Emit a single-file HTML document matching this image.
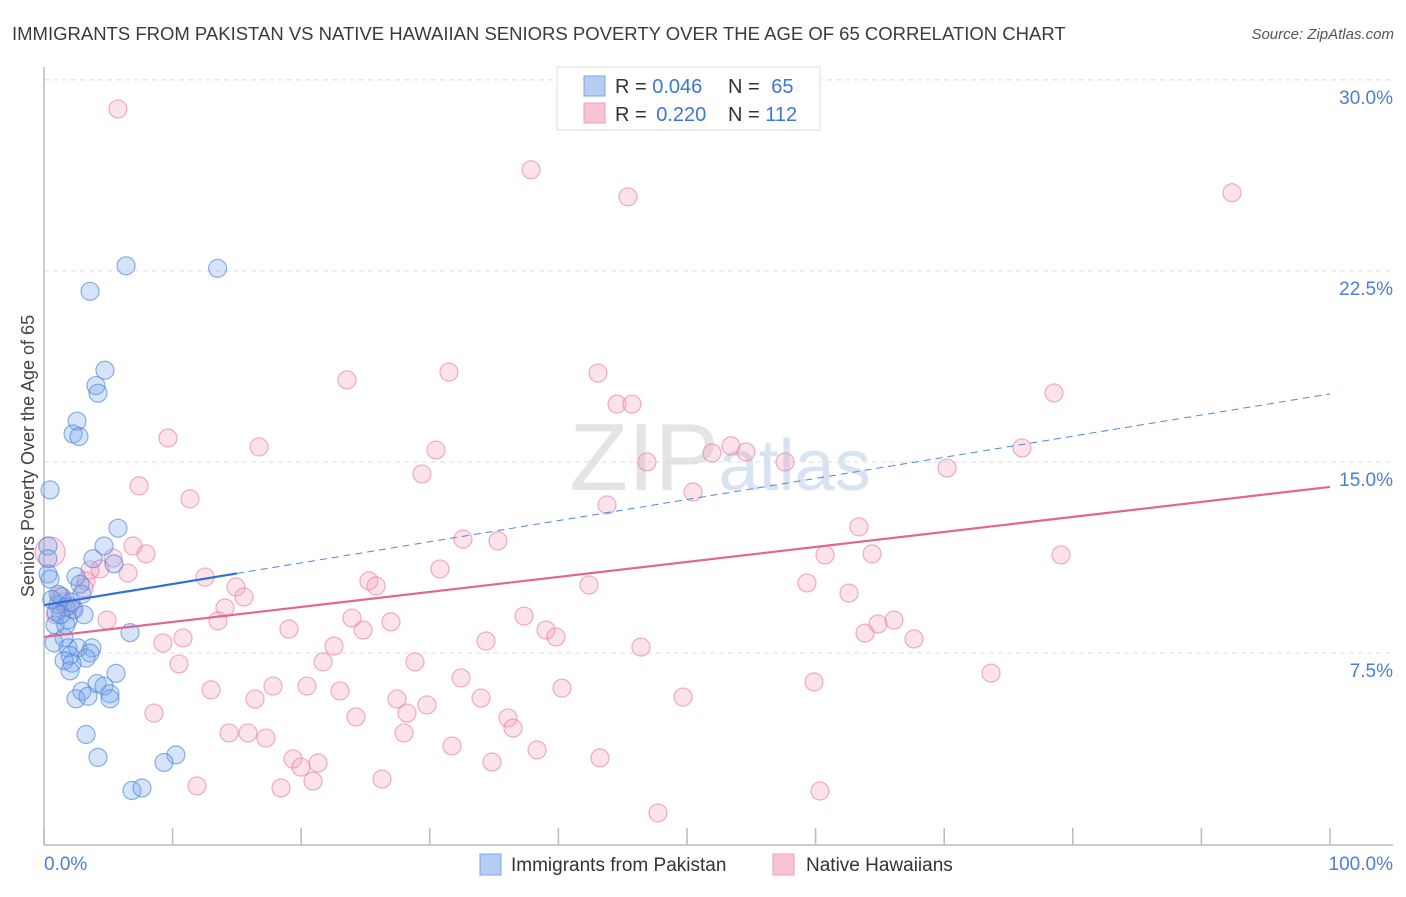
<!DOCTYPE html>
<html><head><meta charset="utf-8"><style>
body{margin:0;background:#fff;font-family:"Liberation Sans",sans-serif;}
svg text{font-family:"Liberation Sans",sans-serif;}
</style></head><body>
<svg id="c" width="1406" height="892" xmlns="http://www.w3.org/2000/svg">
<text x="12" y="40" font-size="18.5" fill="#3a3a3a">IMMIGRANTS FROM PAKISTAN VS NATIVE HAWAIIAN SENIORS POVERTY OVER THE AGE OF 65 CORRELATION CHART</text>
<text x="1394" y="39" font-size="15" fill="#555" text-anchor="end" font-style="italic">Source: ZipAtlas.com</text>
<text x="720" y="490" font-size="96" fill="#e4e4e4" text-anchor="middle" font-family="Liberation Serif">ZIP<tspan fill="#d6e3f3" font-family="Liberation Sans" font-size="72">atlas</tspan></text>
<g id="grid"></g>
<g id="axes"></g>
<g id="pts"></g>
<g id="trend"></g>
<text transform="translate(34,456) rotate(-90)" font-size="18" fill="#444" text-anchor="middle">Seniors Poverty Over the Age of 65</text>
<text x="44" y="870" font-size="19" fill="#4a7fd4">0.0%</text>
<text x="1393" y="870" font-size="19" fill="#4a7fd4" text-anchor="end">100.0%</text>
<g>
<rect x="557" y="67" width="263" height="63" fill="#fff" stroke="#ddd"/>
<rect x="584" y="76" width="21" height="20" fill="#b5cdf3" stroke="#7aa5e6"/>
<rect x="584" y="103" width="21" height="20" fill="#f9c5d5" stroke="#f0a0bb"/>
<text x="615" y="93" font-size="20" fill="#333">R = <tspan fill="#3b78d0">0.046</tspan></text>
<text x="728" y="93" font-size="20" fill="#333">N = <tspan fill="#3b78d0" dx="6">65</tspan></text>
<text x="615" y="121" font-size="20" fill="#333">R = <tspan fill="#3b78d0" dx="4">0.220</tspan></text>
<text x="728" y="121" font-size="20" fill="#333">N = <tspan fill="#3b78d0">112</tspan></text>
</g>
<g>
<rect x="480" y="854" width="21" height="21" fill="#b5cdf3" stroke="#7aa5e6"/>
<text x="511" y="871" font-size="19" fill="#333">Immigrants from Pakistan</text>
<rect x="773" y="854" width="21" height="21" fill="#f9c5d5" stroke="#f0a0bb"/>
<text x="806" y="871" font-size="19" fill="#333">Native Hawaiians</text>
</g>
</svg>
<script>
const yTicks=[7.5,15,22.5,30];
const yTickLabels=["7.5%","15.0%","22.5%","30.0%"];
const xTicks=[0,10,20,30,40,50,60,70,80,90,100];
const blueX=[0.47,6.38,13.5,3.58,4.74,4.04,4.2,2.57,2.26,2.72,5.75,4.67,3.81,5.44,0.31,0.31,0.47,2.49,2.8,2.95,1.4,1.09,1.71,2.33,0.93,3.11,1.87,0.86,6.69,1.56,0.78,1.87,2.64,3.73,3.58,2.02,3.27,1.56,2.18,5.6,2.02,4.12,4.67,2.95,5.13,2.49,3.42,5.13,3.27,4.2,10.26,9.33,6.84,7.62,1.1,0.6,1.7,2.1,0.3,1.3];
const blueY=[13.9,22.7,22.6,21.7,18.6,18.0,17.7,16.6,16.1,16.0,12.4,11.7,11.2,11.0,11.7,10.6,10.4,10.5,10.2,9.8,9.7,9.4,9.3,9.2,9.1,9.0,8.8,8.6,8.3,8.1,7.9,7.7,7.7,7.7,7.5,7.4,7.3,7.2,7.1,6.7,6.8,6.3,6.2,6.0,5.9,5.7,5.8,5.7,4.3,3.4,3.5,3.2,2.1,2.2,9.8,9.6,8.6,9.5,11.2,9.0];
const pinkX=[5.75,37.87,45.41,92.38,23.56,31.49,43.08,44.56,45.72,78.54,9.64,16.72,30.48,53.42,54.59,51.94,57.62,76.05,46.89,29.39,70.22,7.39,11.35,50.47,43.78,63.37,32.58,35.3,79.08,60.73,64.39,6.92,7.93,5.37,6.53,4.35,12.52,3.27,25.27,25.82,30.79,42.38,59.33,14.93,15.55,62.6,14.07,1.94,37.33,23.95,26.98,66.1,64.85,39.04,39.81,13.53,24.81,19.05,63.84,4.9,67.65,34.37,10.81,9.25,22.55,46.42,10.5,21.7,28.85,73.64,32.43,20.45,17.81,12.99,23.02,40.28,59.88,16.41,27.45,29.78,33.98,49.69,8.55,28.23,36.08,24.26,36.47,14.39,15.86,17.26,27.99,31.73,38.34,19.36,21.31,43.23,19.98,34.84,26.28,11.9,18.43,20.92,60.34,47.74,0.47,1.24,3.11,3.58,41.9,2.2,1.5,0.9];
const pinkY=[28.86,26.47,25.41,25.57,18.22,18.53,18.49,17.27,17.27,17.71,15.94,15.59,15.47,15.63,15.39,15.35,15.0,15.55,15.0,14.53,14.76,14.06,13.55,13.82,13.31,12.45,11.97,11.9,11.35,11.35,11.39,11.7,11.39,11.23,10.64,10.8,10.48,10.33,10.33,10.13,10.8,10.17,10.25,10.09,9.7,9.85,9.27,9.34,8.95,8.87,8.72,8.79,8.64,8.4,8.13,8.76,8.4,8.44,8.28,8.79,8.05,7.97,8.09,7.89,7.77,7.73,7.07,7.15,7.15,6.71,6.52,6.2,6.2,6.05,6.01,6.12,6.36,5.69,5.69,5.46,5.73,5.77,5.14,5.14,4.95,4.99,4.55,4.36,4.36,4.16,4.36,3.85,3.69,3.34,3.18,3.38,3.02,3.22,2.55,2.28,2.2,2.47,2.08,1.22,11.46,9.74,10.05,10.76,29.76,9.2,9.5,9.0];
const blueTrend=[9.38,17.67];
const pinkTrend=[8.13,14.02];
const blueSolidEnd=15;
const NS="http://www.w3.org/2000/svg";
const X=v=>44+v*12.86, Y=v=>844-v*25.47;
function mk(t,a,p){const e=document.createElementNS(NS,t);for(const k in a)e.setAttribute(k,a[k]);p.appendChild(e);return e;}
const grid=document.getElementById('grid'),axes=document.getElementById('axes'),pts=document.getElementById('pts'),tr=document.getElementById('trend');
yTicks.forEach((t,i)=>{
 const l=mk('line',{x1:44,x2:1393,y1:Y(t),y2:Y(t),stroke:'#ddd','stroke-dasharray':'5,4'},grid);
 
 
 const tx=mk('text',{x:1393,y:Y(t)+24,'font-size':19,fill:'#4a7fd4','text-anchor':'end'},grid);
 tx.textContent=yTickLabels[i];
 
 
});
const ya=mk('line',{x1:44,x2:44,y1:67,y2:845,stroke:'#bbb','stroke-width':1.5},axes);


const xa=mk('line',{x1:44,x2:1393,y1:845,y2:845,stroke:'#bbb','stroke-width':1.5},axes);


xTicks.forEach(t=>{
 const k=mk('line',{x1:X(t),x2:X(t),y1:828,y2:845,stroke:'#bbb','stroke-width':1.5},axes);
 
 
});
pinkX.forEach((x,i)=>{
 const c=mk('circle',{cx:X(x),cy:Y(pinkY[i]),r:(i==104?15:9),fill:'rgba(244,160,188,0.3)',stroke:'rgba(232,130,165,0.65)','stroke-width':1.2},pts);
 
 
});
blueX.forEach((x,i)=>{
 const c=mk('circle',{cx:X(x),cy:Y(blueY[i]),r:9,fill:'rgba(120,165,235,0.3)',stroke:'rgba(80,135,220,0.65)','stroke-width':1.2},pts);
 
 
});
const bAt=v=>blueTrend[0]+(blueTrend[1]-blueTrend[0])*v/100;
const bs=mk('line',{x1:X(0),y1:Y(bAt(0)),x2:X(blueSolidEnd),y2:Y(bAt(blueSolidEnd)),stroke:'#2f6fd6','stroke-width':2.2},tr);


const bd=mk('line',{x1:X(blueSolidEnd),y1:Y(bAt(blueSolidEnd)),x2:X(100),y2:Y(bAt(100)),stroke:'#4f86dc','stroke-width':1,'stroke-dasharray':'7,5'},tr);


const pl=mk('line',{x1:X(0),y1:Y(pinkTrend[0]),x2:X(100),y2:Y(pinkTrend[1]),stroke:'#e36591','stroke-width':2.2},tr);


</script>
</body></html>
